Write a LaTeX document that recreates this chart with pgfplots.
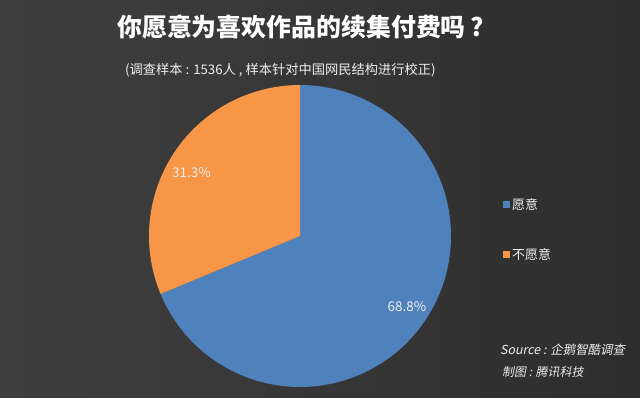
\documentclass[border=0pt]{standalone}
\usepackage{pgfplots}
\pgfplotsset{compat=1.18}
\usepackage{fontspec}
\setmainfont{Noto Sans CJK SC}
\newfontfamily\cjkit{Noto Sans CJK SC}[FakeSlant=0.2]
\definecolor{pblue}{HTML}{4F81BD}
\definecolor{porange}{HTML}{F79646}
\definecolor{bgl}{HTML}{3F3F3F}
\definecolor{bgr}{HTML}{2D2D2D}
\definecolor{txt}{HTML}{EEEEEE}
% data (percent)
\def\valYes{68.8}
\def\valNo{31.3}
\begin{document}
\begin{tikzpicture}
\pgfmathsetmacro\frac{\valYes/(\valYes+\valNo)}
\pgfmathsetmacro\angSplit{90-360*\frac}
\pgfmathsetmacro\angEnd{\angSplit+360}
\begin{axis}[x=1bp,y=1bp,xmin=0,xmax=640,ymin=0,ymax=397,
  hide axis, clip=false, anchor=origin, at={(0,0)},
  legend style={at={(axis cs:503,201)}, anchor=north west, draw=none, fill=none,
    text=txt, font=\fontsize{13}{13}\selectfont, row sep=34bp, inner sep=0pt,
    cells={anchor=west}},
  legend image code/.code={\fill[#1] (0bp,-3.5bp) rectangle (7bp,3.5bp);},
]
\shade[left color=bgl,right color=bgr] (axis cs:0,0) rectangle (axis cs:640,397);
\addplot[fill=pblue, draw=none, domain=\angSplit:90, samples=150, variable=\t, forget plot]
  ({300+151*cos(\t)},{161+151*sin(\t)}) -- (axis cs:300,161) -- cycle;
\addplot[fill=porange, draw=none, domain=90:\angEnd, samples=80, variable=\t, forget plot]
  ({300+151*cos(\t)},{161+151*sin(\t)}) -- (axis cs:300,161) -- cycle;
\addlegendimage{fill=pblue, draw=none}
\addlegendentry{愿意}
\addlegendimage{fill=porange, draw=none}
\addlegendentry{不愿意}
\node[text=txt, font=\fontsize{13.5}{13.5}\selectfont] at (axis cs:191.5,224) {\valNo\%};
\node[text=txt, font=\fontsize{13.5}{13.5}\selectfont] at (axis cs:407,90) {\valYes\%};
\node[text=white, font=\bfseries\fontsize{25}{25}\selectfont, anchor=west, inner sep=0pt] at (axis cs:117,370) {你愿意为喜欢作品的续集付费吗\hspace{5bp}?};
\node[text=txt, font=\fontsize{13.3}{13.3}\selectfont, anchor=west, inner sep=0pt] at (axis cs:125,327) {(调查样本 : 1536人 , 样本针对中国网民结构进行校正)};
\node[text=txt, font=\cjkit\fontsize{12.5}{12.5}\selectfont, anchor=west, inner sep=0pt] at (axis cs:500,47) {Source : 企鹅智酷调查};
\node[text=txt, font=\cjkit\fontsize{12}{12}\selectfont, anchor=west, inner sep=0pt] at (axis cs:502,25) {制图 : 腾讯科技};
\end{axis}
\end{tikzpicture}
\end{document}
